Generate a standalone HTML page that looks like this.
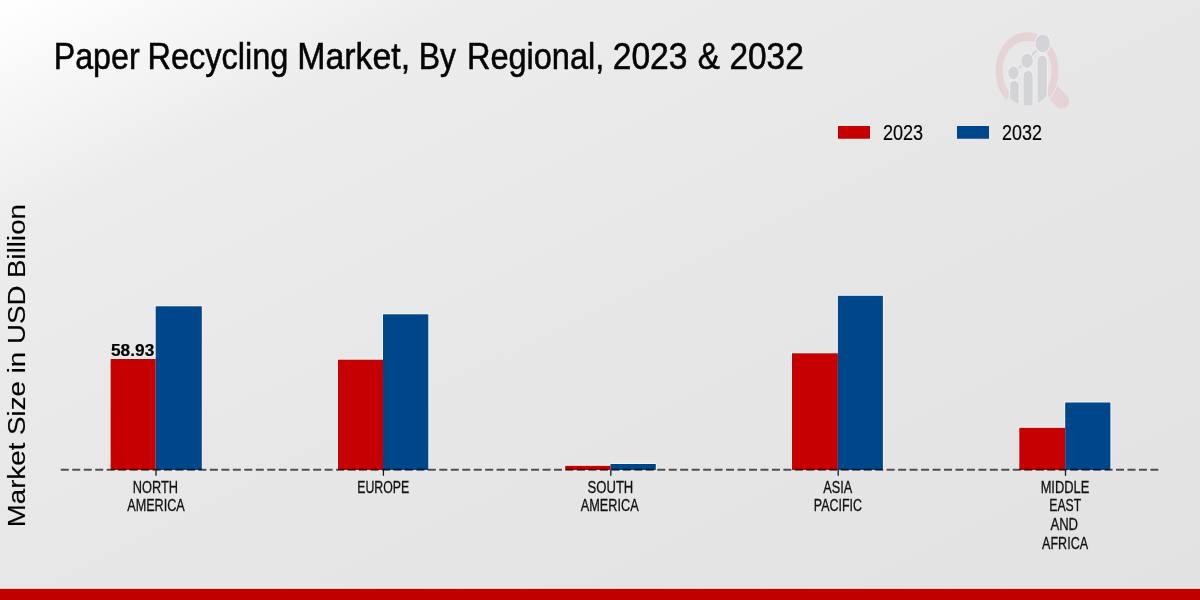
<!DOCTYPE html>
<html><head><meta charset="utf-8">
<style>
html,body{margin:0;padding:0;}
body{width:1200px;height:600px;overflow:hidden;position:relative;background:linear-gradient(to bottom right,#ffffff 0%,#ececec 20%,#e7e7e7 50%,#e2e2e2 100%);font-family:"Liberation Sans",sans-serif;}
svg{position:absolute;left:0;top:0;will-change:transform;}
</style></head>
<body>
<svg width="1200" height="600" viewBox="0 0 1200 600" font-family="Liberation Sans, sans-serif">
<defs>
<mask id="hm" maskUnits="userSpaceOnUse" x="980" y="20" width="120" height="110"><rect x="980" y="20" width="120" height="110" fill="#fff"/><ellipse cx="1027.1" cy="71" rx="32.4" ry="40" fill="#000"/></mask>
<clipPath id="bc"><ellipse cx="0" cy="-1" rx="35.5" ry="35.5"/></clipPath>
</defs>
<g id="logo">
<line x1="1046" y1="85" x2="1061.7" y2="101.1" stroke="#e5d3d5" stroke-width="15" stroke-linecap="round" mask="url(#hm)"/>
<g transform="translate(1027.1,71) scale(0.81,1)">
<path d="M -22.63 26.04 A 34.5 34.5 0 1 1 24.94 23.84" fill="none" stroke="#e5d3d5" stroke-width="8.5"/>
<g stroke="#ededed" stroke-width="3" paint-order="stroke" fill="#d3d4d7">
<g clip-path="url(#bc)">
<path d="M -21 60 V 15.15 A 5.35 5.35 0 0 1 -10.3 15.15 V 60 Z"/>
<path d="M -4.3 60 V 5.3 A 5.55 5.55 0 0 1 6.8 5.3 V 60 Z"/>
<path d="M 13 60 V -9.75 A 5.65 5.65 0 0 1 24.3 -9.75 V 60 Z"/>
</g>
<path d="M -16.8 1.8 L 0.06 -10.2 L 19.3 -27.6" fill="none" stroke="#d3d4d7" stroke-width="2"/>
<circle cx="-16.8" cy="1.8" r="6.4"/>
<circle cx="0.06" cy="-10.2" r="7.1"/>
<circle cx="19.3" cy="-27.6" r="8.9"/>
</g>
</g>
</g>
<g font-size="37.5" fill="#050505" stroke="#050505" stroke-width="0.55">
<text transform="translate(53.67,68.75) scale(0.8594,1)">Paper</text>
<text transform="translate(147.40,68.75) scale(0.8678,1)">Recycling</text>
<text transform="translate(297.29,68.75) scale(0.9034,1)">Market,</text>
<text transform="translate(418.69,68.75) scale(0.8537,1)">By</text>
<text transform="translate(466.90,68.75) scale(0.8668,1)">Regional,</text>
<text transform="translate(612.71,68.75) scale(0.8969,1)">2023</text>
<text transform="translate(697.86,68.75) scale(0.8854,1)">&amp;</text>
<text transform="translate(729.47,68.75) scale(0.8906,1)">2032</text>
</g>
<rect x="838" y="126" width="32" height="12.75" fill="#c60000"/>
<rect x="957" y="126" width="32" height="12.75" fill="#00468a"/>
<g fill="#000" stroke="#000" stroke-width="0.2">
<text transform="translate(882.91,139.6) scale(0.8424,1)" font-size="21.5" font-weight="normal">2023</text>
<text transform="translate(1002.07,139.6) scale(0.8337,1)" font-size="21.5" font-weight="normal">2032</text>
<text transform="translate(111.01,356) scale(0.9940,1)" font-size="17.4" font-weight="bold">58.93</text>
<text transform="translate(25.3,527.24) rotate(-90) scale(1.1218,1)" font-size="24.7" stroke-width="0.12">Market Size in USD Billion</text>
</g>
<g>
<rect x="109.70" y="358.10" width="46.90" height="111.90" fill="#f3f7f7"/>
<rect x="154.80" y="305.40" width="47.90" height="164.60" fill="#f3f7f7"/>
<rect x="337.10" y="358.80" width="46.80" height="111.20" fill="#f3f7f7"/>
<rect x="382.10" y="313.40" width="47.10" height="156.60" fill="#f3f7f7"/>
<rect x="564.30" y="464.90" width="47.10" height="5.10" fill="#f3f7f7"/>
<rect x="609.60" y="463.10" width="47.10" height="6.90" fill="#f3f7f7"/>
<rect x="791.10" y="352.40" width="47.70" height="117.60" fill="#f3f7f7"/>
<rect x="837.00" y="294.90" width="46.80" height="175.10" fill="#f3f7f7"/>
<rect x="1018.40" y="426.90" width="47.70" height="43.10" fill="#f3f7f7"/>
<rect x="1064.30" y="401.60" width="47.00" height="68.40" fill="#f3f7f7"/>
<rect x="110.6" y="359.0" width="45.10" height="111.00" fill="#c60000"/>
<rect x="155.7" y="306.3" width="46.10" height="163.70" fill="#00468a"/>
<rect x="338.0" y="359.7" width="45.00" height="110.30" fill="#c60000"/>
<rect x="383.0" y="314.3" width="45.30" height="155.70" fill="#00468a"/>
<rect x="565.2" y="465.8" width="45.30" height="4.20" fill="#c60000"/>
<rect x="610.5" y="464.0" width="45.30" height="6.00" fill="#00468a"/>
<rect x="792.0" y="353.3" width="45.90" height="116.70" fill="#c60000"/>
<rect x="837.9" y="295.8" width="45.00" height="174.20" fill="#00468a"/>
<rect x="1019.3" y="427.8" width="45.90" height="42.20" fill="#c60000"/>
<rect x="1065.2" y="402.5" width="45.20" height="67.50" fill="#00468a"/>
</g>
<line x1="60.8" y1="469.8" x2="1158.3" y2="469.8" stroke="#000" stroke-opacity="0.65" stroke-width="2" stroke-dasharray="8.0 3.47"/>
<g stroke="#1a1a1a" stroke-width="1.3">
<line x1="156.0" y1="470" x2="156.0" y2="475.8"/>
<line x1="383.4" y1="470" x2="383.4" y2="475.8"/>
<line x1="610.8" y1="470" x2="610.8" y2="475.8"/>
<line x1="838.2" y1="470" x2="838.2" y2="475.8"/>
<line x1="1065.5" y1="470" x2="1065.5" y2="475.8"/>
</g>
<g font-size="16.7" fill="#111" stroke="#111" stroke-width="0.3">
<text transform="translate(132.73,492.7) scale(0.7667,1)">NORTH</text>
<text transform="translate(127.20,511.2) scale(0.7579,1)">AMERICA</text>
<text transform="translate(357.26,492.7) scale(0.7377,1)">EUROPE</text>
<text transform="translate(587.52,492.7) scale(0.7839,1)">SOUTH</text>
<text transform="translate(580.80,511.2) scale(0.7618,1)">AMERICA</text>
<text transform="translate(823.20,492.7) scale(0.7605,1)">ASIA</text>
<text transform="translate(813.86,511.2) scale(0.7444,1)">PACIFIC</text>
<text transform="translate(1040.63,492.7) scale(0.7710,1)">MIDDLE</text>
<text transform="translate(1049.27,511.2) scale(0.7321,1)">EAST</text>
<text transform="translate(1050.40,529.8) scale(0.7857,1)">AND</text>
<text transform="translate(1042.10,548.6) scale(0.7508,1)">AFRICA</text>
</g>
<rect x="0" y="587.8" width="1200" height="1.2" fill="#effafa"/>
<rect x="0" y="588.8" width="1200" height="11.2" fill="#c00000"/>
</svg>
</body></html>
